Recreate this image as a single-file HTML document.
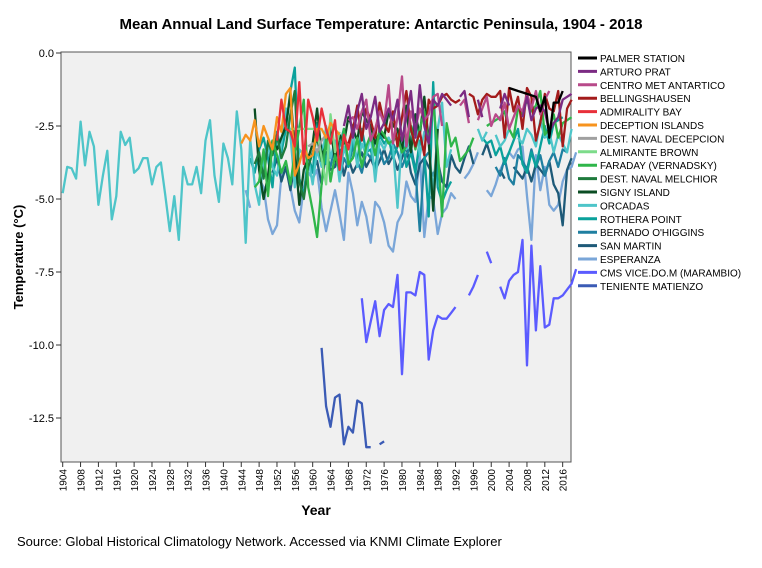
<!DOCTYPE html>
<html><head><meta charset="utf-8"><style>
body{margin:0;background:#fff;font-family:"Liberation Sans",Arial,sans-serif}
svg text{font-family:"Liberation Sans",Arial,sans-serif}
</style></head><body>
<svg id="c" width="762" height="563" xmlns="http://www.w3.org/2000/svg">
<text x="381" y="29" text-anchor="middle" font-size="15" font-weight="bold">Mean Annual Land Surface Temperature: Antarctic Peninsula, 1904 - 2018</text>
<rect x="61" y="52" width="510" height="410" fill="#f0f0f0" stroke="#555" stroke-width="1"/>
<g id="grid"></g><g id="series"></g><g id="axes"></g><g id="legend"></g>
<text transform="translate(23,257) rotate(-90)" text-anchor="middle" font-size="13" font-weight="bold">Temperature (°C)</text>
<text x="316" y="515" text-anchor="middle" font-size="14" font-weight="bold">Year</text>
<text x="17" y="546" font-size="13">Source: Global Historical Climatology Network. Accessed via KNMI Climate Explorer</text>
</svg>
<script>
const yTicks=[0,-2.5,-5,-7.5,-10,-12.5];
const yTickLabels=["0.0","-2.5","-5.0","-7.5","-10.0","-12.5"];
const xTickYears=[1904,1908,1912,1916,1920,1924,1928,1932,1936,1940,1944,1948,1952,1956,1960,1964,1968,1972,1976,1980,1984,1988,1992,1996,2000,2004,2008,2012,2016];
const names=["PALMER STATION","ARTURO PRAT","CENTRO MET ANTARTICO","BELLINGSHAUSEN","ADMIRALITY BAY","DECEPTION ISLANDS","DEST. NAVAL DECEPCION","ALMIRANTE BROWN","FARADAY (VERNADSKY)","DEST. NAVAL MELCHIOR","SIGNY ISLAND","ORCADAS","ROTHERA POINT","BERNADO O'HIGGINS","SAN MARTIN","ESPERANZA","CMS VICE.DO.M (MARAMBIO)","TENIENTE MATIENZO"];
const startYears=[1982,1947,1956,1968,1948,1944,1959,1955,1947,1947,1947,1904,1946,1963,1951,1945,1970,1962];
const palmer=[-0.5,null,null,null,null,-0.75,null,null,null,null,null,null,null,null,null,null,null,null,null,null,null,null,-1.2,-1.25,-1.3,-1.35,-1.4,-1.45,-1.5,-2.0,-1.5,-2.9,-1.7,-1.7,-1.3];
const arturoPrat=[null,null,null,null,null,null,null,null,null,null,null,null,null,null,null,null,null,null,null,null,-2.5,-1.8,-2.9,-2.0,-1.4,-2.6,-2.2,-1.5,-2.7,-2.4,-1.9,-2.3,-1.6,-3.0,-2.2,-1.3,-2.9,-1.1,-2.5,-3.1,-1.6,-1.8,-1.4,-1.6,-1.8,null,-1.5,-1.3,-2.2,null,-1.6,-2.2,null,null,null,-1.9,-1.4,-1.8,null,null,-2.2,-1.5,-2.3,-1.9,-1.8,-2.0,-2.7,-2.4,-2.2,-1.6,-1.5,-1.4];
const centroMet=[null,null,null,null,null,null,null,null,null,null,null,null,-2.3,-2.2,-2.6,-2.0,-1.6,-3.0,-2.6,-2.0,-2.4,-1.1,-3.1,-2.2,-0.8,-3.2,-2.0,-2.6,-1.9,-2.3,-2.1,-1.5,-1.4,-2.5,null,null,null,-1.8,-1.6,-2.4,null,-2.3,-1.9,-1.5,-2.5,-2.1,-2.3,-1.7,-2.6,-2.2,-1.8,-2.0,-1.4,-1.9,-1.3,-2.1,-1.6,-1.3];
const bellingshausen=[-3.1,-2.6,-1.8,-3.0,-1.9,-2.3,-2.9,-1.7,-2.4,-2.7,-2.0,-3.2,-2.2,-1.3,-2.6,-3.2,-2.7,-3.5,-1.6,-1.9,-1.8,-1.5,-1.4,-1.6,-1.7,-1.6,null,-1.4,-1.5,-2.1,-1.6,-1.4,-1.5,-1.5,-1.3,-2.9,-1.2,-2.0,-1.5,-2.6,-1.2,-1.5,-3.0,-2.4,-1.4,-1.9,-2.0,-1.3,-3.2,-1.9,-1.6];
const admiralty=[null,null,null,null,-3.0,-1.6,-2.6,-2.7,-3.2,-1.0,-3.8,-1.6,-2.2,-3.0,-1.9,-2.6,-3.1,-2.3,-4.0,-2.8,-3.3,-2.5];
const deception=[-3.1,-2.8,-3.0,-2.3,-3.2,-2.5,-2.9,-3.3,-2.2,-2.7,-1.4,-1.2,-4.2,-3.8,-3.2,-3.6,-3.5,-2.6,-2.6,-2.9,-2.4,-2.6,-2.8];
const destDecepcion=[-3.2,-3.1,-3.4,-3.0,-2.8];
const almiranteBrown=[-2.6,-2.6,-2.6,-2.6,-2.6,-2.6,-2.65,-3.6,-4.5,-2.1,-3.4,-2.7];
const faraday=[-4.6,-4.4,-3.3,-4.9,-3.0,-3.5,-4.1,-3.7,-4.5,-3.4,-2.6,-1.6,-4.6,-5.4,-6.3,-4.5,-2.9,-4.4,-3.5,-4.0,-2.6,-3.8,-3.6,-2.9,-3.9,-3.2,-2.8,-3.5,-2.6,-2.8,-3.1,-3.0,-2.9,-3.4,-3.2,-2.5,-3.3,-2.6,-2.0,-3.1,-1.7,-3.3,-5.6,-2.4,-3.2,-2.9,-3.7,-3.5,-3.3,-2.9,null,null,-2.5,-2.4,-2.3,-2.2,-2.0,-2.6,-2.9,-1.9,-2.1,-1.6,-2.0,-1.8,-1.3,-2.8,-2.6,-2.1,-2.9,-2.4,-2.3,-2.2];
const melchior=[-3.8,-3.4,-4.3,-3.0,-3.5,-2.8,-3.6,-3.2,-2.1,-1.3,-4.4,-5.0,-3.9,-3.4,-2.9,-3.7,-3.1];
const signy=[-1.9,-4.0,-5.0,-4.2,-3.0,-3.3,-2.9,-2.5,-1.4,-3.3,-5.2,-4.0,-3.6,-3.1,-1.9,-3.5,-3.2,-2.5,-3.7,-2.8,-3.1,-2.2,-2.6,-3.0,-2.0,-2.3,-2.5,-3.1,-2.7,-2.9,-2.0,-2.5,-2.6,-3.4,-1.8,-3.4,-2.1,-2.8,-1.5,-3.0,-5.4,-2.6];
const orcadas=[-4.8,-3.9,-3.95,-4.3,-2.35,-3.85,-2.7,-3.2,-5.2,-4.2,-3.35,-5.7,-4.9,-2.7,-3.15,-2.9,-4.1,-3.95,-3.6,-3.6,-4.5,-3.9,-3.75,-4.9,-6.1,-4.9,-6.4,-3.9,-4.5,-4.5,-3.9,-4.8,-3.0,-2.3,-4.2,-5.1,-3.1,-3.6,-4.5,-2.0,-3.3,-6.5,-2.95,-4.5,-5.2,-3.6,-3.2,-3.9,-4.2,-3.1,-1.9,-2.8,-4.6,-3.3,-3.5,-3.6,-4.5,-3.3,-3.9,-2.5,-3.6,-3.0,-4.4,-3.2,-3.8,-2.7,-3.9,-3.1,-3.5,-2.8,-4.4,-3.0,-3.3,-2.9,-3.2,-5.3,-2.8,-3.3,-3.0,-2.2,-3.5,-2.7,-3.1,-4.8,-2.6,-1.7,-3.9,-3.3,null,null,null,null,null,-2.6,-3.0,-2.7,null,-2.8,-3.2,-3.0,-2.6,null,-2.9,-3.1,-2.6,-2.8,-3.2,-2.3,-2.9,-2.7,-3.4,-2.8,-3.1,-3.4,-2.6];
const rothera=[-3.6,-4.1,-3.3,-2.9,-3.6,-4.6,-2.7,-3.4,-2.6,-1.3,-0.5,-4.3,-4.9,-3.5,-4.1,-2.4,-3.2,-3.8,-2.7,-3.5,-3.2,-2.6,-3.9,-3.0,-3.7,-2.6,-3.4,-3.3,-4.0,-2.8,-3.1,-2.9,-3.6,-3.2,-2.8,-3.9,-3.4,-4.1,-3.0,-3.4,-5.6,-1.0,-4.6,-5.1,-4.7,-4.4,null,null,null,null,null,null,-2.9,-3.1,-3.0,-3.5,-3.2,-3.8,-3.4,-3.0,-2.6,-3.8,-4.1,-3.4,-3.9,-3.2,-2.5,-3.1,-2.4,-2.3,-2.2];
const ohiggins=[-3.5,-3.9,-3.1,-4.3,-3.6,-3.9,-3.2,-3.7,-4.1,-3.4,-3.6,-3.0,-3.3,-3.8,-3.6,-3.1,-3.4,-3.9,-3.5,-3.2,-4.0,-6.1,-3.6,-3.4,null,null,null,null,null,null,null,null,null,null,null,null,null,null,-3.9,-4.2,-3.6,-4.3,-4.5,-3.5,-3.7,-4.0,-3.3,-3.9,-3.5,-4.2,-3.7,-3.4,-3.9,-3.3,-3.4];
const sanMartin=[-4.1,-3.6,-4.4,-3.9,-4.7,-3.8,-4.3,-4.9,-3.6,-4.0,-3.7,-4.5,-3.4,-4.0,-3.9,-3.3,-4.2,-3.6,-4.1,-3.8,-3.4,-3.9,-3.6,-4.0,-3.7,-3.3,-3.8,-3.5,-4.0,-3.6,-3.2,-4.1,-4.5,-3.8,-3.6,-3.9,-4.2,-3.7,-4.4,-4.6,-3.5,-3.9,-4.1,-3.6,-3.2,-3.8,null,-3.5,-3.1,-3.6,null,-4.0,-4.3,null,-3.9,-4.1,-4.3,-3.9,-4.4,-3.8,-4.0,-4.2,-3.7,-4.5,-4.8,-5.9,-4.0,-3.6];
const esperanza=[-4.7,-5.3,null,-4.3,-4.6,-5.7,-6.2,-5.9,-4.2,-4.0,-4.6,-5.4,-5.8,-4.6,-4.1,-4.3,-4.0,-5.3,-6.1,-5.4,-4.7,-5.5,-6.4,-4.1,-4.8,-5.9,-5.1,-5.6,-6.5,-5.1,-5.3,-5.8,-6.6,-6.8,-5.8,-5.5,-4.4,-4.9,-5.1,-3.5,-6.3,-4.9,-5.0,-6.2,-5.5,-5.3,-4.8,-5.0,null,-4.3,-4.1,-3.8,-3.4,null,-4.7,-4.9,-4.5,-4.0,-3.7,-3.4,-3.6,-3.3,-3.2,-4.9,-6.4,-3.5,-4.7,-3.9,-5.2,-5.4,-5.2,-4.4,-4.0,-3.9,-3.4];
const marambio=[null,-8.4,-9.9,-9.2,-8.5,-9.7,-8.8,-8.6,-8.7,-7.6,-11.0,-8.2,-8.2,-8.3,-7.5,-7.6,-10.5,-9.5,-9.0,-9.1,-9.1,-8.9,-8.7,null,null,-8.3,-8.0,-7.6,null,-6.8,-7.2,null,-8.0,-8.4,-7.8,-7.6,-7.5,-6.4,-10.7,-6.6,-9.5,-7.3,-9.4,-9.3,-8.4,-8.4,-8.3,-8.1,-7.9,-7.4];
const matienzo=[-10.1,-12.1,-12.8,-11.8,-11.7,-13.4,-12.8,-13.0,-11.9,-12.0,-13.5,-13.5,null,-13.4,-13.3];
const colors=["#000000","#7b2b83","#b84a8a","#a31b1b","#e8303a","#f7931e","#a0a0a0","#7ddc8a","#2fb64a","#1e7a3c","#0b4d23","#4ec5c9","#0aa19b","#1f7fa0","#1e5a78","#7aa6d8","#5b5bff","#3b5bb5"];
const allSeries=[palmer,arturoPrat,centroMet,bellingshausen,admiralty,deception,destDecepcion,almiranteBrown,faraday,melchior,signy,orcadas,rothera,ohiggins,sanMartin,esperanza,marambio,matienzo];
const NS="http://www.w3.org/2000/svg";
const xS=yr=>62.7+(yr-1904)*4.464;
const yS=v=>53+(-v)*29.2;
function mk(tag,attrs,parent){const e=document.createElementNS(NS,tag);for(const k in attrs)e.setAttribute(k,attrs[k]);parent.appendChild(e);return e;}
const axes=document.getElementById('axes');
yTicks.forEach((t,i)=>{
 const l=mk('line',{x1:56,x2:61,y1:yS(t),y2:yS(t),stroke:'#333'},axes);
 
 
 const tx=mk('text',{x:54,y:yS(t)+4,'text-anchor':'end','font-size':11},axes);tx.textContent=yTickLabels[i];
 
 
});
xTickYears.forEach(yr=>{
 const l=mk('line',{x1:xS(yr),x2:xS(yr),y1:462,y2:467,stroke:'#333'},axes);
 
 
 const tx=mk('text',{transform:`translate(${xS(yr)+4},469) rotate(-90)`,'text-anchor':'end','font-size':10},axes);tx.textContent=yr;
 
 
});
const sg=document.getElementById('series');
for(let s=allSeries.length-1;s>=0;s--){
 const vals=allSeries[s];let d='';let pen=false;
 vals.forEach((v,i)=>{if(v===null){pen=false;return;}const X=xS(startYears[s]+i).toFixed(1),Y=yS(v).toFixed(1);d+=(pen?'L':'M')+X+' '+Y+' ';pen=true;});
 const p=mk('path',{d:d,fill:'none',stroke:colors[s],'stroke-width':2.3,'stroke-linejoin':'round'},sg);
 
 
}
const lg=document.getElementById('legend');
names.forEach((n,i)=>{
 const y=58+i*13.4;
 const l=mk('line',{x1:578,x2:597,y1:y,y2:y,stroke:colors[i],'stroke-width':3},lg);
 
 
 const t=mk('text',{x:600,y:y+4,'font-size':10},lg);t.textContent=n;
 
 
});
</script>
</body></html>
